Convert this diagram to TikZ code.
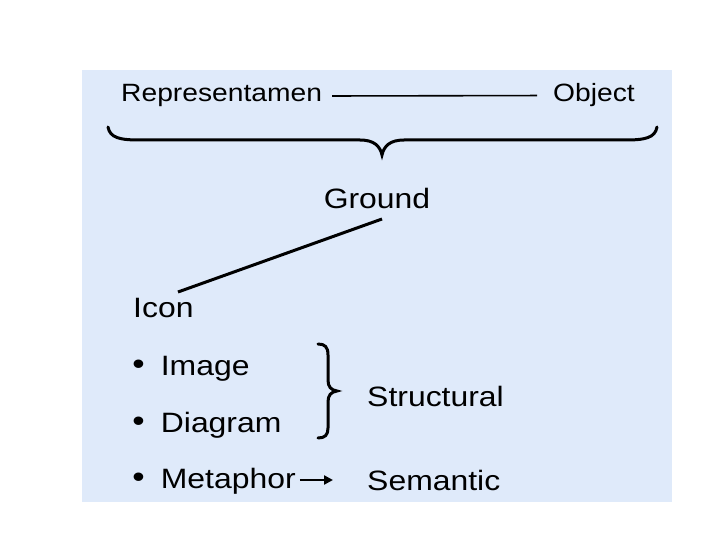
\documentclass[tikz,border=0pt]{standalone}
\usepackage{fontspec}
\setmainfont{Liberation Sans}
\usetikzlibrary{arrows.meta}
\definecolor{bgblue}{RGB}{223,234,250}
\newcommand{\bul}{\makebox[26pt][l]{\hspace{1pt}\raisebox{0.5pt}{\fontsize{31}{31}\selectfont\textbullet}}}
\tikzset{
  lbl/.style={inner sep=0pt, anchor=base west, font=\fontsize{28}{30}\selectfont, xscale=1.14, transform shape},
  toplbl/.style={lbl, font=\fontsize{25}{27}\selectfont, xscale=0.99},
  ink/.style={line width=3pt, black},
}
\begin{document}
\begin{tikzpicture}[x=1pt,y=-1pt]
\useasboundingbox (0,0) rectangle (720,540);
\fill[bgblue] (82,70) rectangle (672,502);
% top row
\node[toplbl] (rep) at (121,102) {Representamen};
\node[toplbl] (obj) at (553,102) {Object};
\draw[line width=1.6pt] ([xshift=10pt]rep.east) -- ([xshift=-16pt]obj.west);
% big brace
\draw[ink, line cap=round]
  (108,127) .. controls (110,138) and (120,140) .. (140,140)
  -- (360,140) .. controls (374,140) and (380,146) .. (382,155)
  .. controls (384,146) and (390,140) .. (404,140)
  -- (625,140) .. controls (645,140) and (655,138) .. (657,127);
% Ground
\node[lbl, anchor=base] (ground) at (377,208) {Ground};
\coordinate (g1) at (382,219);
\coordinate (i1) at (178,292);
\draw[ink] (g1) -- (i1);
\node[lbl] (icon) at (133,317) {Icon};
% bullets
\node[lbl] (image) at (131,375) {\bul Image};
\node[lbl] (diagram) at (131,432) {\bul Diagram};
\node[lbl] (metaphor) at (131,488) {\bul Metaphor};
% right brace
\draw[ink, line cap=round]
  (318,344) .. controls (325,344) and (328,347) .. (328,355)
  -- (328,380) .. controls (328,387) and (331,390) .. (337,391)
  .. controls (331,392) and (328,395) .. (328,402)
  -- (328,428) .. controls (328,435) and (325,438) .. (318,438);
\node[lbl] (structural) at (367,406) {Structural};
\node[lbl] (semantic) at (367,490) {Semantic};
\path ([shift={(4pt,8pt)}]metaphor.base east) coordinate (a1);
\draw[line width=2.5pt, -{Triangle[length=9pt,width=9pt]}, shorten >=34pt] (a1) -- (a1 -| semantic.west);
\end{tikzpicture}
\end{document}
